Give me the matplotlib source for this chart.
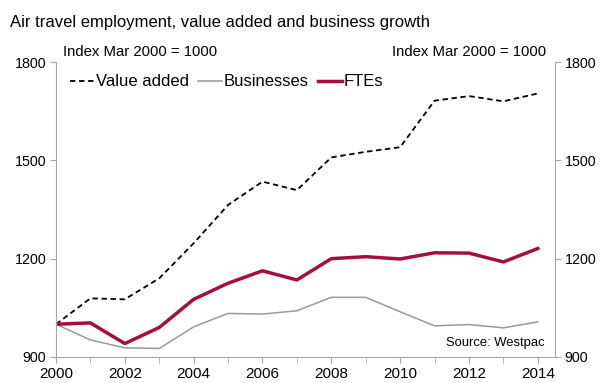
import matplotlib.pyplot as plt
from matplotlib import rcParams
from matplotlib.ticker import MultipleLocator

rcParams['font.family'] = ['Liberation Sans', 'DejaVu Sans']

years = list(range(2000, 2015))
value_added = [1000, 1079, 1076, 1140, 1247, 1364, 1435, 1409, 1509, 1526,
               1540, 1682, 1696, 1680, 1704]
businesses = [1000, 952, 928, 926, 992, 1033, 1031, 1041, 1082, 1082,
              1038, 995, 999, 989, 1007]
ftes = [1000, 1004, 941, 990, 1076, 1125, 1163, 1135, 1200, 1206,
        1199, 1218, 1217, 1190, 1231]
y_ticks = [900, 1200, 1500, 1800]

W, H = 603, 383
fig = plt.figure(figsize=(W / 100, H / 100), dpi=100)
# область графика в пикселях: x 56..555, y 62..357
ax = fig.add_axes([56 / W, 1 - 357 / H, (555 - 56) / W, (357 - 62) / H])

spine_col = '#a6a6a6'
ax.plot(years, value_added, color='black', lw=1.3, ls=(0, (3, 2)), label='Value added')
ax.plot(years, businesses, color='#999999', lw=1.1, label='Businesses')
ax.plot(years, ftes, color='#a50f3c', lw=2.5, label='FTEs')

ax.set_xlim(2000, 2014.5)
ax.set_ylim(900, 1800)
ax.set_yticks(y_ticks)
ax.xaxis.set_major_locator(MultipleLocator(2))
ax.xaxis.set_minor_locator(MultipleLocator(1))

ax.spines['top'].set_visible(False)
for s in ['left', 'bottom', 'right']:
    ax.spines[s].set_color(spine_col)

ax.tick_params(axis='y', direction='out', length=4, color=spine_col,
               labelsize=10.3, pad=3, right=True, labelright=True)
ax.tick_params(axis='x', which='both', direction='out', length=4, color=spine_col,
               labelsize=11, pad=3)

ax.legend(loc='center left', bbox_to_anchor=((70 - 56) / 499, (357 - 82) / 295),
          ncol=3, frameon=False, fontsize=12, handlelength=1.45,
          handletextpad=0.1, columnspacing=0.55, borderpad=0, borderaxespad=0)

fig.text(10 / W, 1 - 23 / H, 'Air travel employment, value added and business growth',
         fontsize=12, va='center', ha='left')
fig.text(63 / W, 1 - 52 / H, 'Index Mar 2000 = 1000', fontsize=10.7, va='center', ha='left')
fig.text(546 / W, 1 - 52 / H, 'Index Mar 2000 = 1000', fontsize=10.7, va='center', ha='right')
fig.text(545 / W, 1 - 343 / H, 'Source: Westpac', fontsize=9.4, va='center', ha='right')

fig.savefig('out.png', dpi=100)
